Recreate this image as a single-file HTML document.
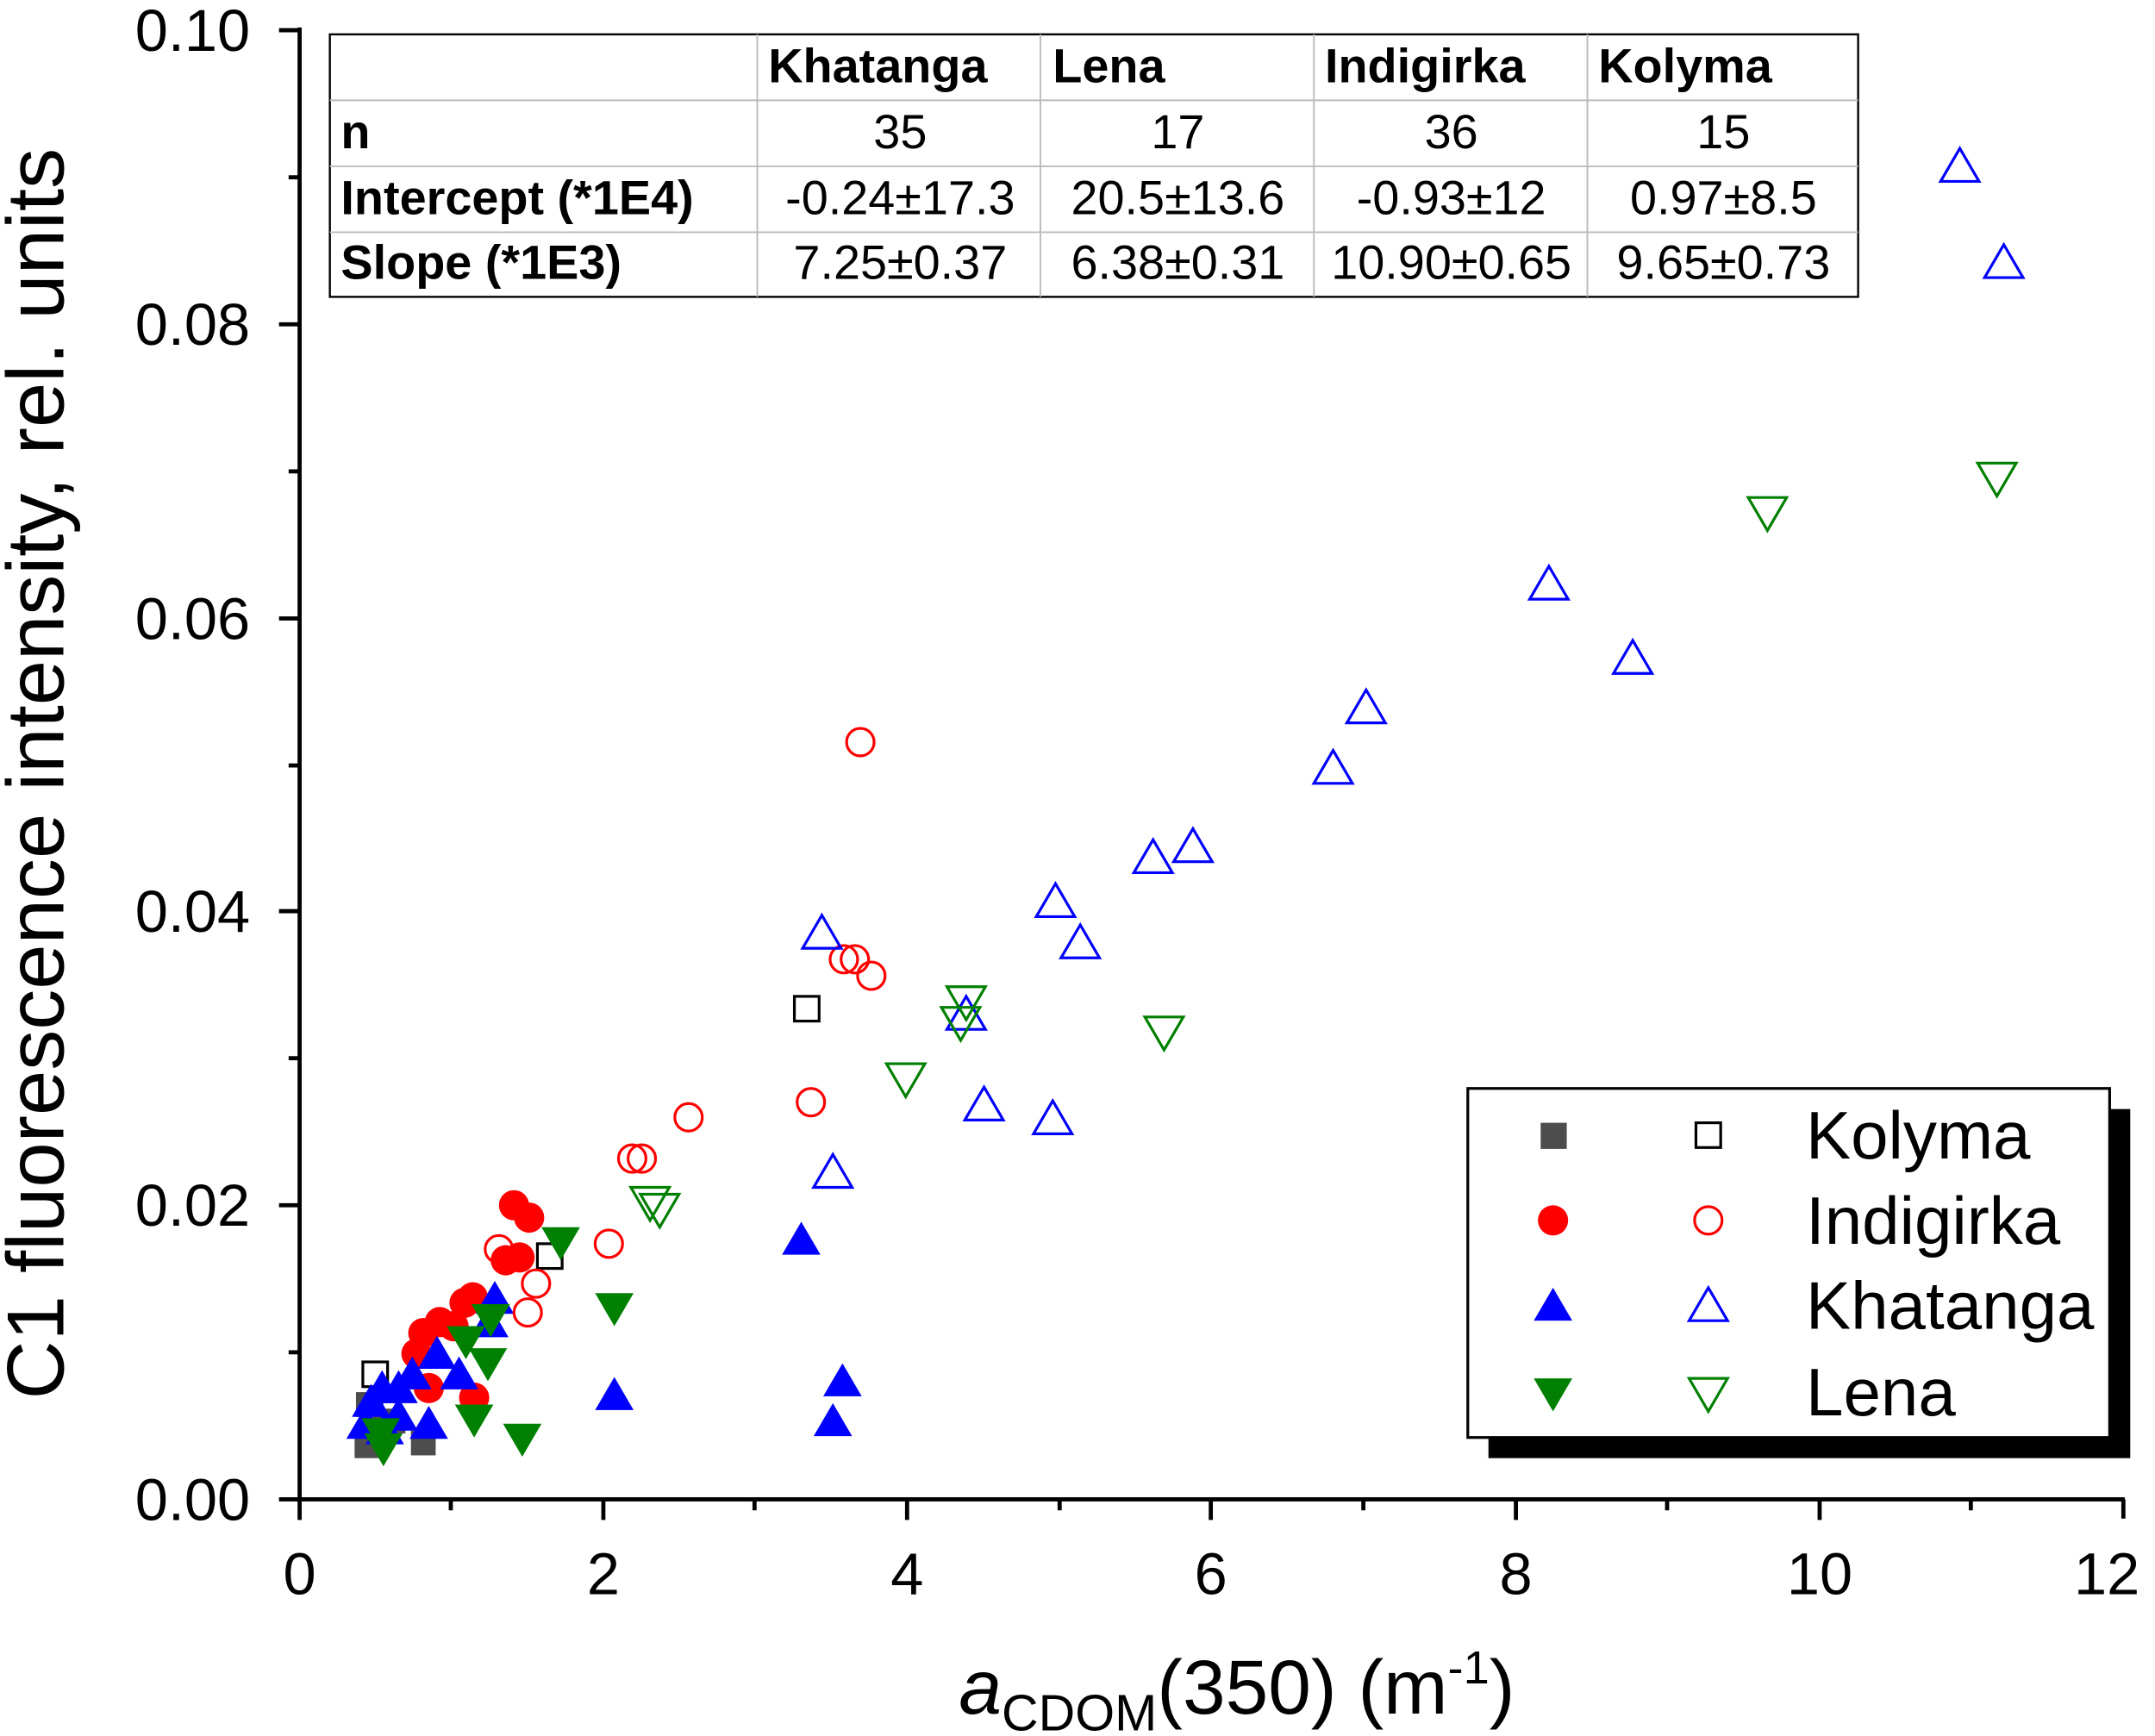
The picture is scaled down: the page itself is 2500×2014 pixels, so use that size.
<!DOCTYPE html>
<html><head><meta charset="utf-8"><style>html,body{margin:0;padding:0;background:#fff}svg{display:block}text{font-family:"Liberation Sans",sans-serif}</style></head><body>
<svg width="2500" height="2014" viewBox="0 0 1568 1263.2" xmlns="http://www.w3.org/2000/svg">
<defs>
<polygon id="tu" points="0,-13 14,11 -14,11"/>
<polygon id="td" points="0,13 14,-11 -14,-11"/>
</defs>
<rect width="1568" height="1264" fill="#fff"/>
<g stroke="#000" stroke-width="3" fill="none">
<line x1="218" y1="20" x2="218" y2="1092"/>
<line x1="216" y1="1091" x2="1546" y2="1091"/>
<line x1="1545" y1="1091" x2="1545" y2="1105"/>
</g>
<g stroke="#000" stroke-width="3">
<line x1="218" y1="1091" x2="218" y2="1106"/><line x1="439" y1="1091" x2="439" y2="1106"/><line x1="660" y1="1091" x2="660" y2="1106"/><line x1="881" y1="1091" x2="881" y2="1106"/><line x1="1103" y1="1091" x2="1103" y2="1106"/><line x1="1324" y1="1091" x2="1324" y2="1106"/>
<line x1="328" y1="1091" x2="328" y2="1099"/><line x1="549" y1="1091" x2="549" y2="1099"/><line x1="771" y1="1091" x2="771" y2="1099"/><line x1="992" y1="1091" x2="992" y2="1099"/><line x1="1213" y1="1091" x2="1213" y2="1099"/><line x1="1434" y1="1091" x2="1434" y2="1099"/>
<line x1="203" y1="1091" x2="218" y2="1091"/><line x1="203" y1="877" x2="218" y2="877"/><line x1="203" y1="663" x2="218" y2="663"/><line x1="203" y1="450" x2="218" y2="450"/><line x1="203" y1="236" x2="218" y2="236"/><line x1="203" y1="22" x2="218" y2="22"/>
<line x1="210" y1="984" x2="218" y2="984"/><line x1="210" y1="770" x2="218" y2="770"/><line x1="210" y1="557" x2="218" y2="557"/><line x1="210" y1="343" x2="218" y2="343"/><line x1="210" y1="129" x2="218" y2="129"/>
</g>
<g font-size="43" text-anchor="end">
<text x="182" y="1106">0.00</text><text x="182" y="892">0.02</text><text x="182" y="678">0.04</text><text x="182" y="465">0.06</text><text x="182" y="251">0.08</text><text x="182" y="37">0.10</text>
</g>
<g font-size="43" text-anchor="middle">
<text x="218" y="1160">0</text><text x="439" y="1160">2</text><text x="660" y="1160">4</text><text x="881" y="1160">6</text><text x="1103" y="1160">8</text><text x="1324" y="1160">10</text><text x="1533" y="1160">12</text>
</g>
<text x="900" y="1247" font-size="56" text-anchor="middle"><tspan font-style="italic">a</tspan><tspan font-size="37" dy="12">CDOM</tspan><tspan dy="-12">(350) (m</tspan><tspan font-size="34" dy="-22">-1</tspan><tspan dy="22">)</tspan></text>
<text transform="translate(46,563) rotate(-90)" font-size="59" text-anchor="middle">C1 fluorescence intensity, rel. units</text>

<g fill="#4d4d4d">
<rect x="259" y="1013" width="18" height="18"/><rect x="258" y="1043" width="18" height="18"/><rect x="299" y="1041" width="18" height="18"/><rect x="277" y="1025" width="18" height="18"/><rect x="261" y="1021" width="18" height="18"/>
</g>
<g fill="none" stroke="#000" stroke-width="2">
<rect x="578" y="725" width="18" height="18"/><rect x="391" y="905" width="18" height="18"/><rect x="264" y="991" width="18" height="18"/>
</g>
<g fill="#f00">
<circle cx="374" cy="877" r="11"/><circle cx="385" cy="886" r="11"/><circle cx="368" cy="917" r="11"/><circle cx="378" cy="915" r="11"/><circle cx="330" cy="965" r="11"/><circle cx="344" cy="944" r="11"/><circle cx="308" cy="970" r="11"/><circle cx="303" cy="985" r="11"/><circle cx="312" cy="1010" r="11"/><circle cx="345" cy="1017" r="11"/><circle cx="320" cy="962" r="11"/><circle cx="338" cy="948" r="11"/>
</g>
<g fill="#00f">
<use href="#tu" x="583" y="902"/><use href="#tu" x="447" y="1015"/><use href="#tu" x="613" y="1005"/><use href="#tu" x="606" y="1034"/><use href="#tu" x="360" y="945"/><use href="#tu" x="356" y="962"/><use href="#tu" x="334" y="1000"/><use href="#tu" x="318" y="985"/><use href="#tu" x="300" y="1000"/><use href="#tu" x="290" y="1010"/><use href="#tu" x="270" y="1020"/><use href="#tu" x="290" y="1030"/><use href="#tu" x="312" y="1036"/><use href="#tu" x="280" y="1040"/><use href="#tu" x="266" y="1036"/><use href="#tu" x="278" y="1010"/>
</g>
<g fill="#008000">
<use href="#td" x="408" y="904"/><use href="#td" x="447" y="952"/><use href="#td" x="380" y="1047"/><use href="#td" x="345" y="1033"/><use href="#td" x="357" y="960"/><use href="#td" x="339" y="976"/><use href="#td" x="355" y="992"/><use href="#td" x="279" y="1054"/><use href="#td" x="277" y="1043"/>
</g>
<g fill="none" stroke="#f00" stroke-width="2">
<circle cx="626" cy="540" r="10"/><circle cx="614" cy="698" r="10"/><circle cx="622" cy="698" r="10"/><circle cx="634" cy="710" r="10"/><circle cx="501" cy="813" r="10"/><circle cx="590" cy="802" r="10"/><circle cx="460" cy="843" r="10"/><circle cx="467" cy="843" r="10"/><circle cx="443" cy="905" r="10"/><circle cx="363" cy="909" r="10"/><circle cx="390" cy="934" r="10"/><circle cx="384" cy="955" r="10"/>
</g>
<g fill="none" stroke="#00f" stroke-width="2">
<use href="#tu" x="1426" y="121"/><use href="#tu" x="1458" y="191"/><use href="#tu" x="1127" y="425"/><use href="#tu" x="1188" y="479"/><use href="#tu" x="994" y="515"/><use href="#tu" x="970" y="559"/><use href="#tu" x="868" y="616"/><use href="#tu" x="839" y="624"/><use href="#tu" x="768" y="656"/><use href="#tu" x="786" y="686"/><use href="#tu" x="598" y="679"/><use href="#tu" x="703" y="738"/><use href="#tu" x="716" y="804"/><use href="#tu" x="766" y="814"/><use href="#tu" x="606" y="853"/>
</g>
<g fill="none" stroke="#008000" stroke-width="2">
<use href="#td" x="1453" y="348"/><use href="#td" x="1286" y="373"/><use href="#td" x="703" y="729"/><use href="#td" x="699" y="744"/><use href="#td" x="847" y="751"/><use href="#td" x="659" y="785"/><use href="#td" x="473" y="875"/><use href="#td" x="480" y="880"/>
</g>

<rect x="240" y="25" width="1112" height="191" fill="#fff" stroke="#000" stroke-width="1.5"/>
<g stroke="#bbb" stroke-width="1.2">
<line x1="240" y1="73" x2="1352" y2="73"/><line x1="240" y1="121" x2="1352" y2="121"/><line x1="240" y1="169" x2="1352" y2="169"/>
<line x1="551" y1="25" x2="551" y2="216"/><line x1="757" y1="25" x2="757" y2="216"/><line x1="956" y1="25" x2="956" y2="216"/><line x1="1155" y1="25" x2="1155" y2="216"/>
</g>
<g font-size="35" font-weight="bold">
<text x="559" y="60">Khatanga</text><text x="766" y="60">Lena</text><text x="964" y="60">Indigirka</text><text x="1163" y="60">Kolyma</text>
<text x="248" y="108">n</text><text x="248" y="156">Intercept (*1E4)</text><text x="248" y="203">Slope (*1E3)</text>
</g>
<g font-size="35" text-anchor="middle">
<text x="655" y="108">35</text><text x="857" y="108">17</text><text x="1056" y="108">36</text><text x="1254" y="108">15</text>
<text x="655" y="156">-0.24±17.3</text><text x="857" y="156">20.5±13.6</text><text x="1056" y="156">-0.93±12</text><text x="1254" y="156">0.97±8.5</text>
<text x="655" y="203">7.25±0.37</text><text x="857" y="203">6.38±0.31</text><text x="1056" y="203">10.90±0.65</text><text x="1254" y="203">9.65±0.73</text>
</g>

<rect x="1083" y="807" width="467" height="254" fill="#000"/>
<rect x="1068" y="792" width="467" height="254" fill="#fff" stroke="#000" stroke-width="2"/>
<rect x="1121" y="817" width="19" height="19" fill="#4d4d4d"/>
<rect x="1234" y="817" width="18" height="18" fill="none" stroke="#000" stroke-width="2"/>
<circle cx="1130" cy="888" r="11" fill="#f00"/>
<circle cx="1243" cy="888" r="10" fill="none" stroke="#f00" stroke-width="2"/>
<use href="#tu" x="1130" y="950" fill="#00f"/>
<use href="#tu" x="1243" y="950" fill="none" stroke="#00f" stroke-width="2"/>
<use href="#td" x="1130" y="1014" fill="#008000"/>
<use href="#td" x="1243" y="1014" fill="none" stroke="#008000" stroke-width="2"/>
<g font-size="49">
<text x="1314" y="843">Kolyma</text><text x="1314" y="905">Indigirka</text><text x="1314" y="967">Khatanga</text><text x="1314" y="1030">Lena</text>
</g>
</svg>
</body></html>
